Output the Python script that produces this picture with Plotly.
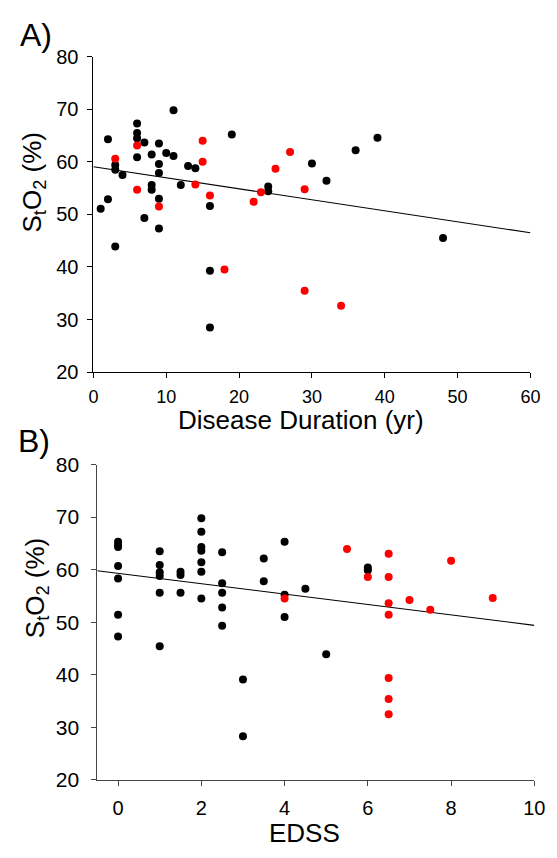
import plotly.graph_objects as go

# ---------------- Data ----------------
# Panel A: disease duration (yr) vs StO2 (%)
a_black_dur = [1, 2, 2, 3, 3, 3, 4, 6, 6, 6, 6, 7, 7, 8, 8, 8, 9, 9, 9, 9, 9, 10, 11, 11,
               12, 13, 14, 16, 16, 16, 19, 24, 24, 30, 32, 36, 39, 48]
a_black_so2 = [51.1, 64.3, 52.9, 59.4, 58.5, 43.9, 57.5, 67.3, 65.5, 64.5, 60.9, 63.7, 49.3,
               61.4, 55.6, 54.7, 63.5, 59.6, 57.9, 53.0, 47.3, 61.7, 69.8, 61.1,
               55.6, 59.2, 58.8, 51.6, 39.3, 28.5, 65.2, 55.3, 54.4, 59.7, 56.4, 62.2, 64.6, 45.5]
a_red_dur = [3, 6, 6, 9, 14, 15, 15, 16, 18, 22, 23, 25, 27, 29, 29, 34]
a_red_so2 = [60.6, 63.1, 54.7, 51.5, 55.7, 64.0, 60.0, 53.6, 39.5, 52.4, 54.2, 58.7, 61.9,
             54.8, 35.5, 32.6]
a_fit_intercept = 59.07
a_fit_slope = -0.2095
a_fit_x = [0, 60]

# Panel B: EDSS vs StO2 (%)
b_black_edss = [0, 0, 0, 0, 0, 0, 0,
                1, 1, 1, 1, 1, 1,
                1.5, 1.5, 1.5,
                2, 2, 2, 2, 2, 2, 2,
                2.5, 2.5, 2.5, 2.5, 2.5,
                3, 3, 3.5, 3.5, 4, 4, 4, 4.5, 5, 6, 6]
b_black_so2 = [65.3, 64.7, 64.3, 60.7, 58.3, 51.4, 47.3,
               63.5, 60.9, 59.5, 58.8, 55.6, 45.4,
               59.6, 59.0, 55.6,
               69.8, 67.2, 64.3, 63.6, 61.4, 59.6, 54.5,
               63.3, 57.4, 55.6, 52.8, 49.3,
               39.1, 28.3, 62.1, 57.8, 65.3, 55.2, 51.0, 56.35, 43.9, 60.4, 59.9]
b_red_edss = [4, 5.5, 6, 6.5, 6.5, 6.5, 6.5, 6.5, 6.5, 6.5, 7, 7.5, 8, 9]
b_red_so2 = [54.5, 63.95, 58.6, 63.0, 58.6, 53.6, 51.4, 39.4, 35.4, 32.5, 54.2, 52.35, 61.7, 54.6]
b_fit_intercept = 59.3
b_fit_slope = -0.99
b_fit_x = [-0.5, 10]

a_xticks = [0, 10, 20, 30, 40, 50, 60]
b_xticks = [0, 2, 4, 6, 8, 10]
yticks = [20, 30, 40, 50, 60, 70, 80]

# ---------------- Figure ----------------
W, H = 557, 858
FONT = "Arial, Liberation Sans, sans-serif"


def fx(p):
    return p / W


def fy(p):
    return 1 - p / H


fig = go.Figure()
mk = 8

fig.add_trace(go.Scatter(x=a_fit_x, y=[a_fit_intercept + a_fit_slope * v for v in a_fit_x],
                         mode="lines", line=dict(color="black", width=1.1),
                         xaxis="x", yaxis="y", hoverinfo="skip"))
fig.add_trace(go.Scatter(x=a_black_dur, y=a_black_so2, mode="markers",
                         marker=dict(color="black", size=mk), xaxis="x", yaxis="y"))
fig.add_trace(go.Scatter(x=a_red_dur, y=a_red_so2, mode="markers",
                         marker=dict(color="#ff0000", size=mk), xaxis="x", yaxis="y"))

fig.add_trace(go.Scatter(x=b_fit_x, y=[b_fit_intercept + b_fit_slope * v for v in b_fit_x],
                         mode="lines", line=dict(color="black", width=1.1),
                         xaxis="x2", yaxis="y2", hoverinfo="skip"))
fig.add_trace(go.Scatter(x=b_black_edss, y=b_black_so2, mode="markers",
                         marker=dict(color="black", size=mk), xaxis="x2", yaxis="y2"))
fig.add_trace(go.Scatter(x=b_red_edss, y=b_red_so2, mode="markers",
                         marker=dict(color="#ff0000", size=mk), xaxis="x2", yaxis="y2"))

common = dict(showline=True, linewidth=1, showgrid=False, zeroline=False,
              ticks="outside", ticklen=5, tickwidth=1)

fig.update_layout(
    width=W, height=H,
    margin=dict(l=0, r=0, t=0, b=0),
    paper_bgcolor="white", plot_bgcolor="white",
    showlegend=False,
    font=dict(family=FONT, color="black"),
    xaxis=dict(domain=[fx(91), fx(541)], range=[0, 60], anchor="y",
               tickvals=a_xticks, linecolor="black", tickcolor="black",
               tickfont=dict(size=18), ticklabelstandoff=3, **common),
    yaxis=dict(domain=[fy(370), fy(46)], range=[20, 80], anchor="x",
               tickvals=yticks, linecolor="black", tickcolor="black",
               tickfont=dict(size=20), ticklabelstandoff=5, **common),
    xaxis2=dict(domain=[fx(95), fx(545)], range=[-0.5, 10], anchor="y2",
                tickvals=b_xticks, linecolor="#444444", tickcolor="#444444",
                tickfont=dict(size=20), ticklabelstandoff=5, **common),
    yaxis2=dict(domain=[fy(789), fy(465)], range=[20, 80], anchor="x2",
                tickvals=yticks, linecolor="#444444", tickcolor="#444444",
                tickfont=dict(size=21), ticklabelstandoff=8, **common),
)

ann = [
    dict(text="A)", x=fx(13), y=fy(23.5), xanchor="left", yanchor="middle",
         font=dict(size=32)),
    dict(text="B)", x=fx(11), y=fy(441), xanchor="left", yanchor="middle",
         font=dict(size=32)),
    dict(text="Disease Duration (yr)", x=fx(305), y=fy(419), xanchor="center",
         yanchor="middle", font=dict(size=26)),
    dict(text="EDSS", x=fx(308), y=fy(844), xanchor="center", yanchor="middle",
         font=dict(size=26)),
    dict(text="S<sub>t</sub>O<sub>2</sub> (%)", x=fx(29), y=fy(175), textangle=-90,
         xanchor="center", yanchor="middle", font=dict(size=26)),
    dict(text="S<sub>t</sub>O<sub>2</sub> (%)", x=fx(32), y=fy(592), textangle=-90,
         xanchor="center", yanchor="middle", font=dict(size=26)),
]
for a in ann:
    a.update(xref="paper", yref="paper", showarrow=False)
fig.update_layout(annotations=ann)

fig.write_html(
    "out.html",
    config={"displayModeBar": False},
    post_script="document.body.style.margin='0';document.body.style.padding='0';"
                "document.documentElement.style.overflow='hidden';",
)
